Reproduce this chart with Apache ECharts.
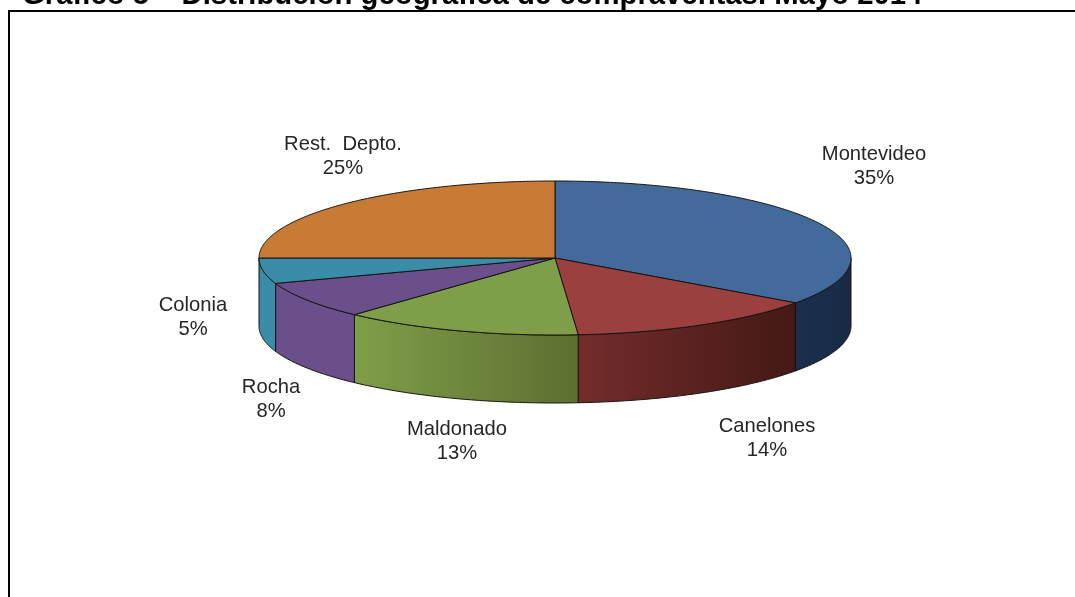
<!DOCTYPE html>
<html><head><meta charset="utf-8">
<style>html,body{margin:0;padding:0;background:#fff}#c{width:1075px;height:597px}</style>
<script src="https://cdn.jsdelivr.net/npm/echarts@6/dist/echarts.min.js"></script>
</head><body><div id="c"></div>
<script>
const categories = ['Montevideo','Canelones','Maldonado','Rocha','Colonia','Rest.  Depto.'];
const values = [34.9,13.85,13.1,7.8,5.35,25];
const topColors = ['#426b9c','#9c3f3f','#7f9e49','#6a4f8a','#3a8ca8','#c97b36'];
const sideLeft = ['#1b2f4d','#742c2c','#7f9e49','#6a4f8a','#3a8ca8','#c97b36'];
const sideRight = ['#182a45','#431916','#5c6f30','#6a4f8a','#3a8ca8','#c97b36'];
const titleText = 'Gráfico 5 – Distribución geográfica de compraventas. Mayo 2014';

const cx=555, cy=258, rx=296, ry=77, depth=68;
const labelPos=[[874,166],[767,438],[457,441],[271,399],[193,317],[343,156]];
const total=values.reduce((a,b)=>a+b,0);
function range(i){let s=0;for(let k=0;k<i;k++)s+=values[k];return [s/total*2*Math.PI,(s+values[i])/total*2*Math.PI];}
const pt=(a,dy)=>[cx+rx*Math.sin(a),cy-ry*Math.cos(a)+(dy||0)];
function arc(a,b,dy){const n=Math.max(2,Math.ceil(Math.abs(b-a)/0.01));const o=[];for(let k=0;k<=n;k++)o.push(pt(a+(b-a)*k/n,dy));return o;}
const edge={stroke:'#14140f',lineWidth:1,lineJoin:'round'};

const dataRows=values.map((v,i)=>[i,v,categories[i]]);
function side(p,api){
  const i=api.value(0);let [a,b]=range(i);
  a=Math.max(a,Math.PI/2);b=Math.min(b,Math.PI*1.5);
  if(b<=a)return {type:'group',children:[]};
  const top=arc(a,b,0),bot=arc(b,a,depth);
  const flip=top[0][0]>top[top.length-1][0];
  const stops=flip?[{offset:0,color:sideLeft[i]},{offset:1,color:sideRight[i]}]:[{offset:0,color:sideRight[i]},{offset:1,color:sideLeft[i]}];
  return {type:'polygon',shape:{points:top.concat(bot)},
    style:Object.assign({fill:new echarts.graphic.LinearGradient(0,0,1,0,stops)},edge)};
}
function slice(p,api){
  const i=api.value(0);const [a,b]=range(i);
  return {type:'polygon',shape:{points:[[cx,cy]].concat(arc(a,b,0))},style:Object.assign({fill:topColors[i]},edge)};
}
function label(p,api){
  const i=api.value(0);
  return {type:'text',x:labelPos[i][0],y:labelPos[i][1],style:{
    text:categories[i]+'\n'+Math.round(api.value(1))+'%',
    align:'center',verticalAlign:'middle',fill:'#262626',
    font:'20.2px "Liberation Sans", Arial, sans-serif',lineHeight:24}};
}
const chart=echarts.init(document.getElementById('c'),null,{renderer:'canvas'});
chart.setOption({
  animation:false,backgroundColor:'#fff',
  graphic:[
    {type:'line',silent:true,shape:{x1:9,y1:11,x2:1075,y2:11},style:{stroke:'#000',lineWidth:2}},
    {type:'line',silent:true,shape:{x1:9,y1:10,x2:9,y2:597},style:{stroke:'#000',lineWidth:2}},
    {type:'text',silent:true,x:22,y:-4,style:{text:titleText,fill:'#000',align:'left',verticalAlign:'middle',
      font:'bold 29.3px "Liberation Sans", Arial, sans-serif'}}
  ],
  series:[
    {type:'custom',coordinateSystem:'none',data:dataRows,renderItem:side,silent:true,z:2},
    {type:'custom',coordinateSystem:'none',data:dataRows,renderItem:slice,silent:true,z:3},
    {type:'custom',coordinateSystem:'none',data:dataRows,renderItem:label,silent:true,z:4}
  ]
});
</script></body></html>
